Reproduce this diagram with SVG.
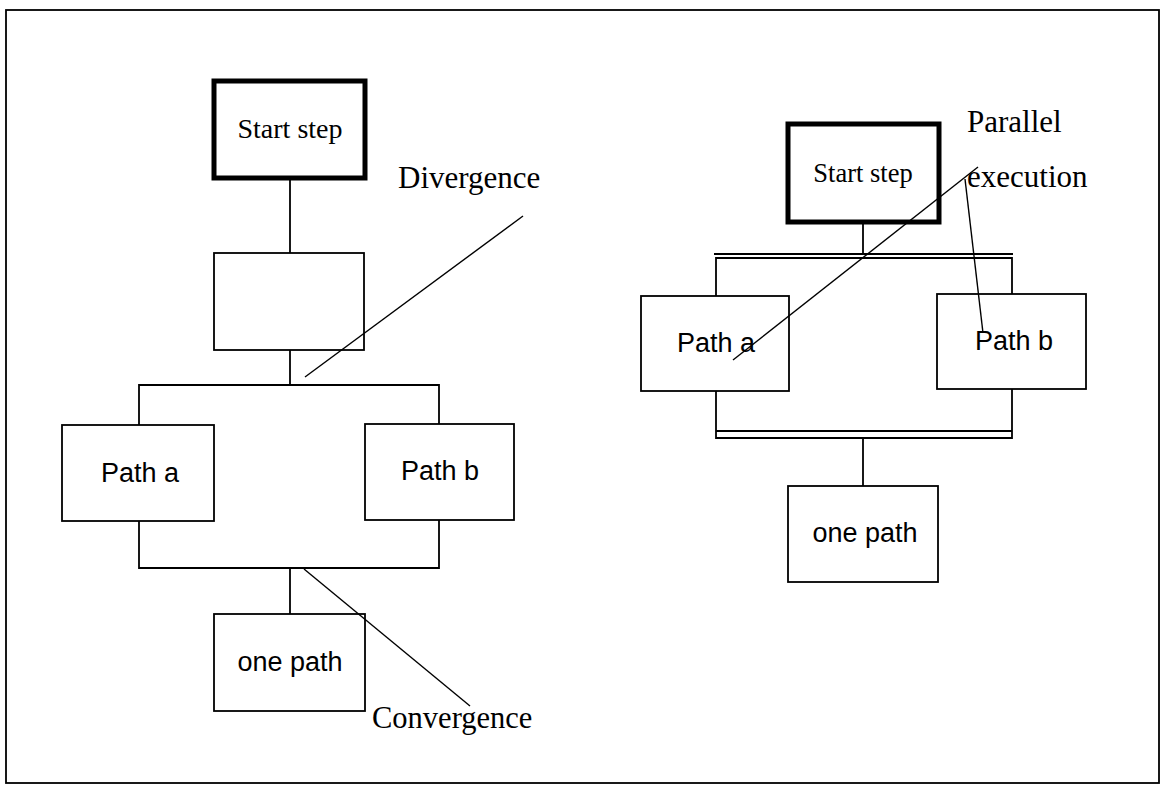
<svg xmlns="http://www.w3.org/2000/svg" width="1164" height="786" viewBox="0 0 1164 786">
<style>
.box{fill:#fff;stroke:#000;stroke-width:1.8}
.start{fill:#fff;stroke:#000;stroke-width:5}
.ln{fill:none;stroke:#000;stroke-width:1.8}
.thin{fill:none;stroke:#000;stroke-width:1.4}
.serif{font-family:"Liberation Serif","Times New Roman",serif;fill:#000}
.sans{font-family:"Liberation Sans",Arial,sans-serif;fill:#000;font-size:27px}
</style>
<rect x="0" y="0" width="1164" height="786" fill="#fff"/>
<rect x="6" y="10" width="1153" height="773" class="ln" stroke-width="2.2"/>
<g id="connectors">
<line x1="290" y1="180" x2="290" y2="253" class="ln"/>
<line x1="290" y1="350" x2="290" y2="385" class="ln"/>
<polyline points="139,425 139,385 439,385 439,425" class="ln"/>
<polyline points="139,521 139,568 439,568 439,520" class="ln"/>
<line x1="290" y1="568" x2="290" y2="614" class="ln"/>
<line x1="863" y1="223" x2="863" y2="254" class="ln"/>
<line x1="714" y1="254" x2="1013" y2="254" class="ln"/>
<polyline points="716,296 716,258 1012,258 1012,294" class="ln"/>
<polyline points="716,391 716,438 1012,438 1012,389" class="ln"/>
<line x1="716" y1="431" x2="1012" y2="431" class="ln"/>
<line x1="863" y1="438" x2="863" y2="486" class="ln"/>
</g>
<g id="left-start"><rect x="214" y="81" width="151" height="97" class="start"/><text x="290" y="138" text-anchor="middle" class="serif" font-size="28">Start step</text></g>
<g id="left-step"><rect x="214" y="253" width="150" height="97" class="box"/></g>
<g id="left-path-a"><rect x="62" y="425" width="152" height="96" class="box"/><text x="140" y="482" text-anchor="middle" class="sans">Path a</text></g>
<g id="left-path-b"><rect x="365" y="424" width="149" height="96" class="box"/><text x="440" y="480" text-anchor="middle" class="sans">Path b</text></g>
<g id="left-one-path"><rect x="214" y="614" width="151" height="97" class="box"/><text x="290" y="671" text-anchor="middle" class="sans">one path</text></g>
<g id="right-start"><rect x="788" y="124" width="151" height="98" class="start"/><text x="863" y="182" text-anchor="middle" class="serif" font-size="26.5">Start step</text></g>
<g id="right-path-a"><rect x="641" y="296" width="148" height="95" class="box"/><text x="716" y="352" text-anchor="middle" class="sans">Path a</text></g>
<g id="right-path-b"><rect x="937" y="294" width="149" height="95" class="box"/><text x="1014" y="350" text-anchor="middle" class="sans">Path b</text></g>
<g id="right-one-path"><rect x="788" y="486" width="150" height="96" class="box"/><text x="865" y="542" text-anchor="middle" class="sans">one path</text></g>
<g id="labels">
<text x="398" y="188" class="serif" font-size="31">Divergence</text>
<text x="372" y="728" class="serif" font-size="30.5">Convergence</text>
<text x="967" y="132" class="serif" font-size="31">Parallel</text>
<text x="967" y="187" class="serif" font-size="31">execution</text>
</g>
<g id="label-pointers">
<line x1="305" y1="377" x2="523" y2="216" class="thin"/>
<line x1="304" y1="569" x2="470" y2="706" class="thin"/>
<line x1="978" y1="167" x2="733" y2="360" class="thin"/>
<line x1="965" y1="179" x2="983" y2="333" class="thin"/>
</g>
</svg>
